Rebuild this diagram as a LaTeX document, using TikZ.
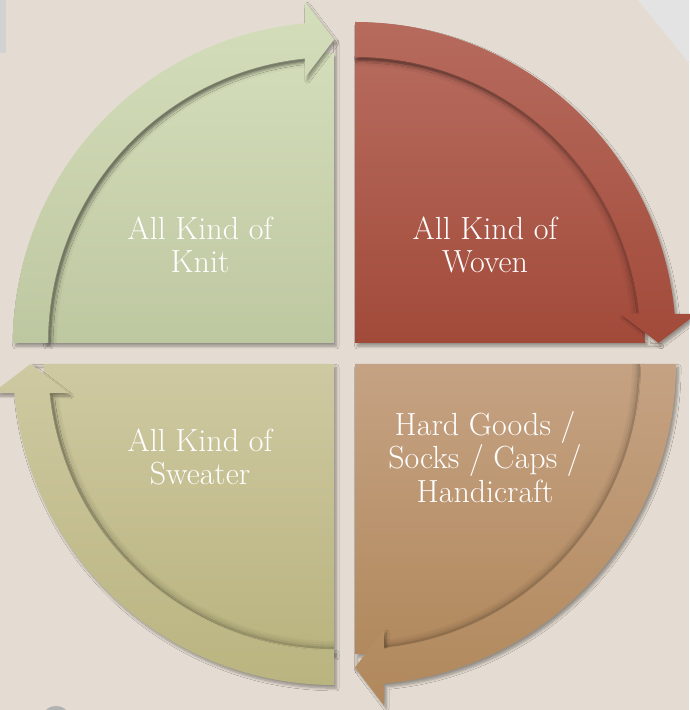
\documentclass[tikz,border=0pt]{standalone}
\usepackage{tikz}
\usetikzlibrary{shadows.blur}

\definecolor{pagebg}{HTML}{E4DCD2}
\definecolor{knit-top}{HTML}{D5DEBB}
\definecolor{knit-bot}{HTML}{BDC7A0}
\definecolor{woven-top}{HTML}{B66B5D}
\definecolor{woven-bot}{HTML}{A24A3A}
\definecolor{hard-top}{HTML}{C5A283}
\definecolor{hard-bot}{HTML}{B1885C}
\definecolor{sweater-top}{HTML}{CEC9A1}
\definecolor{sweater-bot}{HTML}{BAB480}

\begin{document}
\begin{tikzpicture}[
  x=0.75pt, y=0.75pt,
  quarter/.style={blur shadow={shadow xshift=1.8pt, shadow yshift=-2.4pt,
    shadow blur radius=2pt, shadow blur steps=6, shadow opacity=35}},
  label text/.style={text=white, align=center,
    font=\fontsize{24}{25}\selectfont},
]
  \newcommand*{\OuterRadius}{321}
  \newcommand*{\InnerRadius}{286}
  \newcommand*{\TipRadius}{303.5}

  \useasboundingbox (0,0) rectangle (689,710);

  % page background and the grey bits of the screenshot
  \fill[pagebg] (0,0) rectangle (689,710);
  \fill[gray!22] (638,710) -- (689,710) -- (689,647) -- cycle;
  \fill[gray!35] (0,657) rectangle (6,710);
  \fill[gray!60] (56,-3) ellipse (8.25pt and 5.25pt);

  % Quadrants: centre, start angle of the arrow, colour name
  % the arrow runs clockwise and ends with its tip on the next axis
  \foreach \cx/\cy/\s/\c [count=\i] in
    {334/367/180/knit, 355/367/90/woven, 355/346/0/hard, 334/346/-90/sweater} {
    \pgfmathsetmacro\e{\s-90}
    \begin{scope}[shift={(\cx,\cy)}]
      % sector under the arrow
      \path[quarter, top color=\c-top, bottom color=\c-bot]
        (0,0) -- ({\s}:{\InnerRadius+4})
        arc[start angle=\s, end angle=\e, radius={(\InnerRadius+4)*0.75pt}]
        -- ({\e}:\TipRadius) -- cycle;
      % soft shadow of the arrow along the inner edge
      \foreach \k/\o in {2/0.20, 4/0.11, 6/0.06, 8/0.03} {
        \draw[black, opacity=\o, line width=1.6pt]
          ({\s}:{\InnerRadius-\k})
          arc[start angle=\s, end angle=\e+6, radius={(\InnerRadius-\k)*0.75pt}];
      }
      % the curved arrow
      \path[quarter, top color=\c-top, bottom color=\c-bot]
        ({\s}:\OuterRadius)
        arc[start angle=\s, end angle=\e+5.2, radius={\OuterRadius*0.75pt}]
        -- ({\e+4.85}:342.7) -- ({\e}:\TipRadius) -- ({\e+6.23}:267.1)
        -- ({\e+5.8}:\InnerRadius)
        arc[start angle=\e+5.8, end angle=\s, radius={\InnerRadius*0.75pt}]
        -- cycle;
    \end{scope}
  }

  % Labels
  \node[label text] (knit)    at (200,465) {All Kind of\\Knit};
  \node[label text] (woven)   at (485,465) {All Kind of\\Woven};
  \node[label text] (hard)    at (485,253) {Hard Goods /\\Socks / Caps /\\Handicraft};
  \node[label text] (sweater) at (200,253) {All Kind of\\Sweater};
\end{tikzpicture}
\end{document}
